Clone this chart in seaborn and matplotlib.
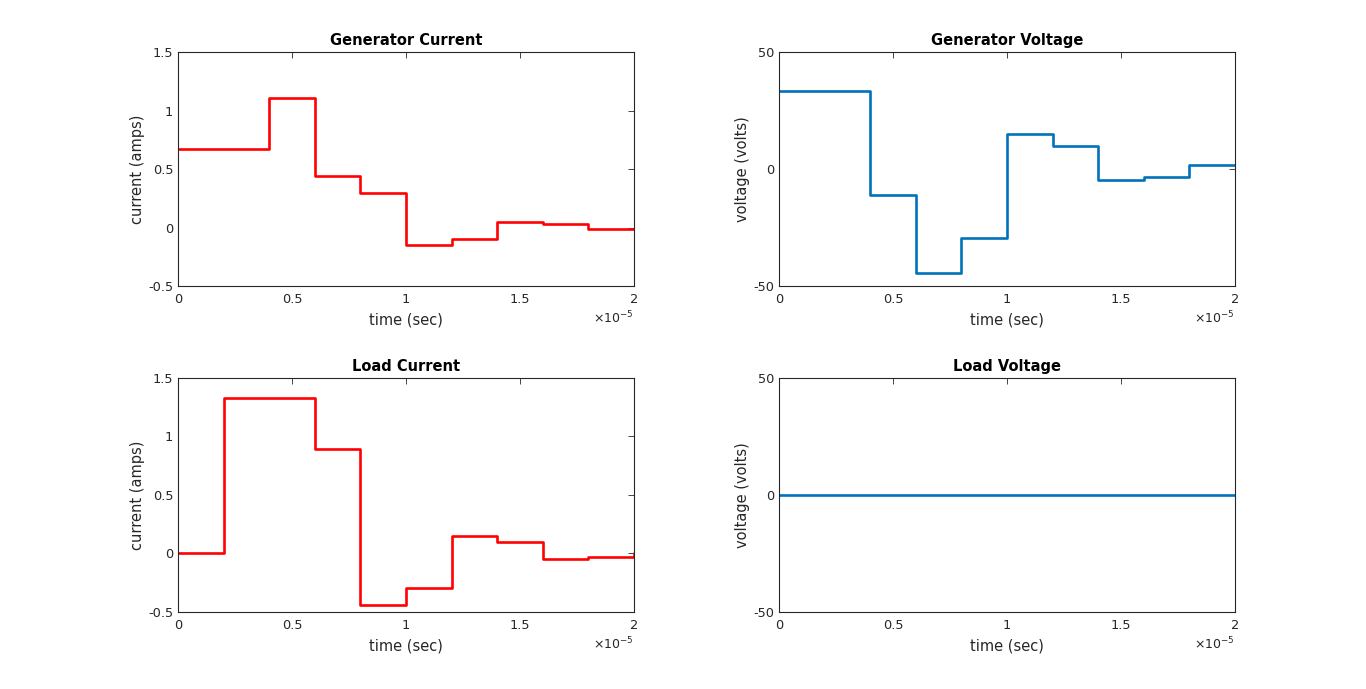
import numpy as np
import pandas as pd
import matplotlib
matplotlib.use("Agg")
import matplotlib.pyplot as plt
import seaborn as sns
from matplotlib.ticker import FuncFormatter

# ---- data (time in seconds, step breakpoints) ----
t_steps = [0.0, 0.4e-5, 0.6e-5, 0.8e-5, 1.0e-5, 1.2e-5, 1.4e-5, 1.6e-5, 1.8e-5, 2.0e-5]
gen_current = [0.667, 1.111, 0.444, 0.296, -0.148, -0.099, 0.049, 0.033, -0.016, -0.016]
gen_voltage = [33.3, -11.1, -44.4, -29.6, 14.8, 9.9, -4.9, -3.3, 1.6, 1.6]

t_load = [0.0, 0.2e-5, 0.6e-5, 0.8e-5, 1.0e-5, 1.2e-5, 1.4e-5, 1.6e-5, 1.8e-5, 2.0e-5]
load_current = [0.0, 1.333, 0.889, -0.444, -0.296, 0.148, 0.099, -0.049, -0.033, 0.008]
load_voltage = [0.0, 0.0, 0.0, 0.0, 0.0, 0.0, 0.0, 0.0, 0.0, 0.0]

xticks = [0, 0.5e-5, 1.0e-5, 1.5e-5, 2.0e-5]
current_ticks = [-0.5, 0, 0.5, 1, 1.5]
voltage_ticks = [-50, 0, 50]
x_scale = 1e-5

RED = "#FF0000"
BLUE = "#0072BD"
TXT = "#262626"

sns.set_style("white")
plt.rcParams["font.family"] = ["DejaVu Sans"]
plt.rcParams["axes.edgecolor"] = TXT
plt.rcParams["axes.linewidth"] = 0.8

fig = plt.figure(figsize=(13.66, 6.89), dpi=100)

w, h = 0.3338, 0.3396
positions = {
    "gc": [0.1303, 0.5849, w, h],
    "gv": [0.5703, 0.5849, w, h],
    "lc": [0.1303, 0.1118, w, h],
    "lv": [0.5703, 0.1118, w, h],
}

panels = [
    ("gc", t_steps, gen_current, RED, "Generator Current", "current (amps)", (-0.5, 1.5), current_ticks),
    ("gv", t_steps, gen_voltage, BLUE, "Generator Voltage", "voltage (volts)", (-50, 50), voltage_ticks),
    ("lc", t_load, load_current, RED, "Load Current", "current (amps)", (-0.5, 1.5), current_ticks),
    ("lv", t_load, load_voltage, BLUE, "Load Voltage", "voltage (volts)", (-50, 50), voltage_ticks),
]

xfmt = FuncFormatter(lambda v, p: "%g" % round(v / x_scale, 6))
yfmt = FuncFormatter(lambda v, p: "%g" % round(v, 6))

for key, tx, vy, col, title, ylab, ylim, yt in panels:
    ax = fig.add_axes(positions[key])
    df = pd.DataFrame({"t": tx, "v": vy})
    sns.lineplot(data=df, x="t", y="v", ax=ax, color=col, linewidth=1.9,
                 drawstyle="steps-post", estimator=None, sort=False)
    ax.set_xlim(0, 2e-5)
    ax.set_ylim(*ylim)
    ax.set_xticks(xticks)
    ax.set_yticks(yt)
    ax.xaxis.set_major_formatter(xfmt)
    ax.yaxis.set_major_formatter(yfmt)
    ax.set_title(title, fontsize=10.5, fontweight="bold", color="black", pad=5)
    ax.set_xlabel("time (sec)", fontsize=10.5, color=TXT, labelpad=5)
    ax.set_ylabel(ylab, fontsize=10.5, color=TXT, labelpad=2)
    ax.tick_params(direction="in", top=True, right=True, length=4, width=0.6,
                   labelsize=9.3, colors=TXT)
    ax.tick_params(axis="x", pad=5)
    ax.tick_params(axis="y", pad=3.5)
    ax.text(1.0, -0.135, r"$\times\mathdefault{10^{-5}}$", transform=ax.transAxes,
            ha="right", va="center", fontsize=9, color=TXT)
    for s in ax.spines.values():
        s.set_visible(True)
        s.set_color(TXT)

fig.savefig("out.png", dpi=100, facecolor="white")
